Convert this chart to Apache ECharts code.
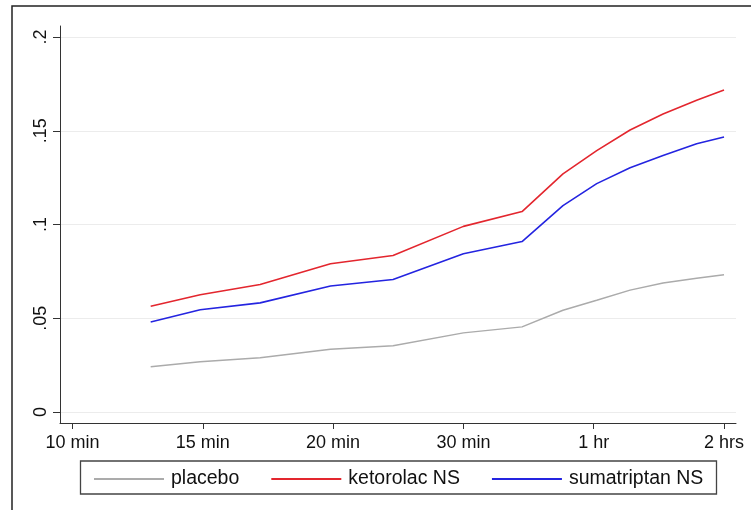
<!DOCTYPE html>
<html>
<head>
<meta charset="utf-8">
<script src="https://cdn.jsdelivr.net/npm/echarts@6/dist/echarts.min.js"></script>
<style>
  html, body { margin: 0; padding: 0; background: #fff; }
  #main { width: 751px; height: 510px; }
</style>
</head>
<body>
<div id="main"></div>
<script>
// time axis: 0..5 are the labelled time points
const xLabels = ["10 min", "15 min", "20 min", "30 min", "1 hr", "2 hrs"];
const xTicks = [0, 1, 2, 3, 4, 5];
const yTicks = [0, 0.05, 0.1, 0.15, 0.2];
const yLabels = ["0", ".05", ".1", ".15", ".2"];

// positions along the time axis
const xPos = [0.6, 0.98, 1.44, 1.98, 2.46, 3.0, 3.45, 3.764, 4.023, 4.279, 4.532, 4.79, 5.0];
const placebo = [0.0241, 0.0268, 0.0289, 0.0335, 0.0353, 0.0422, 0.0454, 0.0543, 0.0596, 0.065, 0.0688, 0.0713, 0.0732];
const ketorolac = [0.0564, 0.0625, 0.068, 0.0791, 0.0835, 0.099, 0.1069, 0.127, 0.1394, 0.1504, 0.1589, 0.1663, 0.1718];
const sumatriptan = [0.048, 0.0545, 0.0582, 0.0672, 0.0707, 0.0844, 0.0909, 0.1101, 0.1218, 0.1303, 0.1368, 0.1431, 0.1467];

const font = "Liberation Sans, Arial, Helvetica, sans-serif";

function pairs(ys) {
  return xPos.map((x, i) => [x, ys[i]]);
}

const chart = echarts.init(document.getElementById("main"));

chart.setOption({
  animation: false,
  backgroundColor: "#fff",
  grid: { left: 60, right: 15, top: 26, bottom: 87 },
  xAxis: {
    type: "value",
    min: -0.096,
    max: 5.092,
    axisLine: { onZero: false, lineStyle: { color: "#333", width: 1 } },
    axisTick: { customValues: xTicks, length: 6, lineStyle: { color: "#333" } },
    axisLabel: {
      customValues: xTicks,
      margin: 11,
      color: "#111",
      fontSize: 18,
      fontFamily: font,
      formatter: (v) => xLabels[Math.round(v)]
    },
    splitLine: { show: false }
  },
  yAxis: {
    type: "value",
    min: -0.00587,
    max: 0.20587,
    axisLine: { show: true, onZero: false, lineStyle: { color: "#333", width: 1 } },
    axisTick: { show: true, customValues: yTicks, length: 7, lineStyle: { color: "#333" } },
    axisLabel: {
      customValues: yTicks,
      rotate: 90,
      margin: 10,
      color: "#111",
      fontSize: 18,
      fontFamily: font,
      formatter: (v) => yLabels[yTicks.findIndex((t) => Math.abs(t - v) < 1e-6)]
    },
    splitLine: { show: false }
  },
  legend: {
    left: 88,
    top: 464,
    itemWidth: 70,
    itemHeight: 14,
    itemGap: 31,
    itemStyle: { opacity: 0 },
    textStyle: { fontSize: 19.5, fontFamily: font, color: "#111", padding: [0, 0, 0, 2] },
    data: ["placebo", "ketorolac NS", "sumatriptan NS"]
  },
  graphic: [
    // outer frame (top and left edges visible)
    { type: "rect", shape: { x: 12, y: 6, width: 800, height: 600 },
      style: { fill: "none", stroke: "#222", lineWidth: 1.5 }, silent: true },
    // legend box
    { type: "rect", shape: { x: 80.5, y: 461, width: 636, height: 33 },
      style: { fill: "none", stroke: "#444", lineWidth: 1.3 }, silent: true }
  ],
  series: [
    {
      // faint horizontal grid lines at the labelled ticks
      name: "grid",
      type: "line",
      data: [],
      silent: true,
      z: 0,
      markLine: {
        z: 0,
        silent: true,
        symbol: "none",
        label: { show: false },
        lineStyle: { color: "#ececec", width: 1, type: "solid" },
        data: yTicks.map((t) => ({ yAxis: t }))
      }
    },
    {
      name: "placebo",
      type: "line",
      symbol: "none",
      data: pairs(placebo),
      lineStyle: { color: "#ababab", width: 1.5 },
      itemStyle: { color: "#ababab" },
      z: 3
    },
    {
      name: "ketorolac NS",
      type: "line",
      symbol: "none",
      data: pairs(ketorolac),
      lineStyle: { color: "#e3262e", width: 1.6 },
      itemStyle: { color: "#e3262e" },
      z: 3
    },
    {
      name: "sumatriptan NS",
      type: "line",
      symbol: "none",
      data: pairs(sumatriptan),
      lineStyle: { color: "#2424e0", width: 1.6 },
      itemStyle: { color: "#2424e0" },
      z: 3
    }
  ]
});
</script>
</body>
</html>
